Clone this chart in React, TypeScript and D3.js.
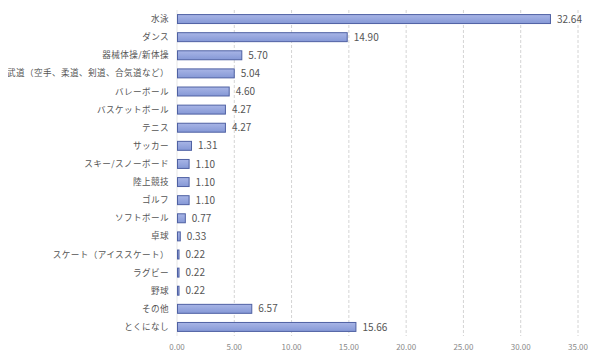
import { useEffect, useRef } from "react";
import * as d3 from "d3";

const categories = [
  "水泳",
  "ダンス",
  "器械体操/新体操",
  "武道（空手、柔道、剣道、合気道など）",
  "バレーボール",
  "バスケットボール",
  "テニス",
  "サッカー",
  "スキー/スノーボード",
  "陸上競技",
  "ゴルフ",
  "ソフトボール",
  "卓球",
  "スケート（アイススケート）",
  "ラグビー",
  "野球",
  "その他",
  "とくになし",
];

const values = [
  32.64, 14.9, 5.7, 5.04, 4.6, 4.27, 4.27, 1.31, 1.1, 1.1, 1.1, 0.77, 0.33,
  0.22, 0.22, 0.22, 6.57, 15.66,
];

const xTicks = [0, 5, 10, 15, 20, 25, 30, 35];

export default function App() {
  const ref = useRef<SVGSVGElement>(null);

  useEffect(() => {
    const svg = d3.select(ref.current);
    svg.selectAll("*").remove();

    const font = "'Noto Sans CJK JP', 'Noto Sans', sans-serif";
    const left = 177;
    const right = 578;
    const top = 10;
    const bottom = 336;

    const x = d3.scaleLinear().domain([0, 35]).range([left, right]);
    const y = d3
      .scaleBand<string>()
      .domain(categories)
      .range([top, bottom])
      .paddingInner(0.45)
      .paddingOuter(0.225);

    const defs = svg.append("defs");
    const grad = defs
      .append("linearGradient")
      .attr("id", "barGrad")
      .attr("x1", 0)
      .attr("y1", 0)
      .attr("x2", 0)
      .attr("y2", 1);
    grad.append("stop").attr("offset", "0%").attr("stop-color", "#a8b5e6");
    grad.append("stop").attr("offset", "100%").attr("stop-color", "#8598d6");

    // grid lines
    svg
      .append("g")
      .selectAll("line")
      .data(xTicks.slice(1))
      .join("line")
      .attr("x1", (d) => x(d))
      .attr("x2", (d) => x(d))
      .attr("y1", top)
      .attr("y2", bottom)
      .attr("stroke", "#d4d4d4")
      .attr("stroke-width", 1)
      .attr("stroke-dasharray", "3,2");

    svg
      .append("line")
      .attr("x1", x(0))
      .attr("x2", x(0))
      .attr("y1", top)
      .attr("y2", bottom)
      .attr("stroke", "#e6e6e6");

    // x tick labels
    svg
      .append("g")
      .selectAll("text")
      .data(xTicks)
      .join("text")
      .attr("x", (d) => x(d))
      .attr("y", 350)
      .attr("text-anchor", "middle")
      .attr("font-family", font)
      .attr("font-size", 8)
      .attr("fill", "#8a8a8a")
      .text((d) => d.toFixed(2));

    // bars
    svg
      .append("g")
      .selectAll("rect")
      .data(values)
      .join("rect")
      .attr("x", x(0) + 0.5)
      .attr("y", (_, i) => (y(categories[i]) as number) + 0.5)
      .attr("width", (d) => Math.max(x(d) - x(0) - 1, 1))
      .attr("height", y.bandwidth() - 1)
      .attr("fill", "url(#barGrad)")
      .attr("stroke", "#4f61a3")
      .attr("stroke-width", 1);

    // value labels
    svg
      .append("g")
      .selectAll("text")
      .data(values)
      .join("text")
      .attr("x", (d) => x(d) + 6)
      .attr("y", (_, i) => (y(categories[i]) as number) + y.bandwidth() / 2)
      .attr("dy", "0.36em")
      .attr("font-family", font)
      .attr("font-size", 10)
      .attr("fill", "#555")
      .text((d) => d.toFixed(2));

    // category labels
    svg
      .append("g")
      .selectAll("text")
      .data(categories)
      .join("text")
      .attr("x", 169)
      .attr("y", (d) => (y(d) as number) + y.bandwidth() / 2)
      .attr("dy", "0.36em")
      .attr("text-anchor", "end")
      .attr("font-family", font)
      .attr("font-size", 8.6)
      .attr("letter-spacing", 0.4)
      .attr("fill", "#555")
      .text((d) => d);
  }, []);

  return (
    <div style={{ margin: -8 }}>
      <svg ref={ref} width={600} height={360} style={{ display: "block", background: "#fff" }} />
    </div>
  );
}
